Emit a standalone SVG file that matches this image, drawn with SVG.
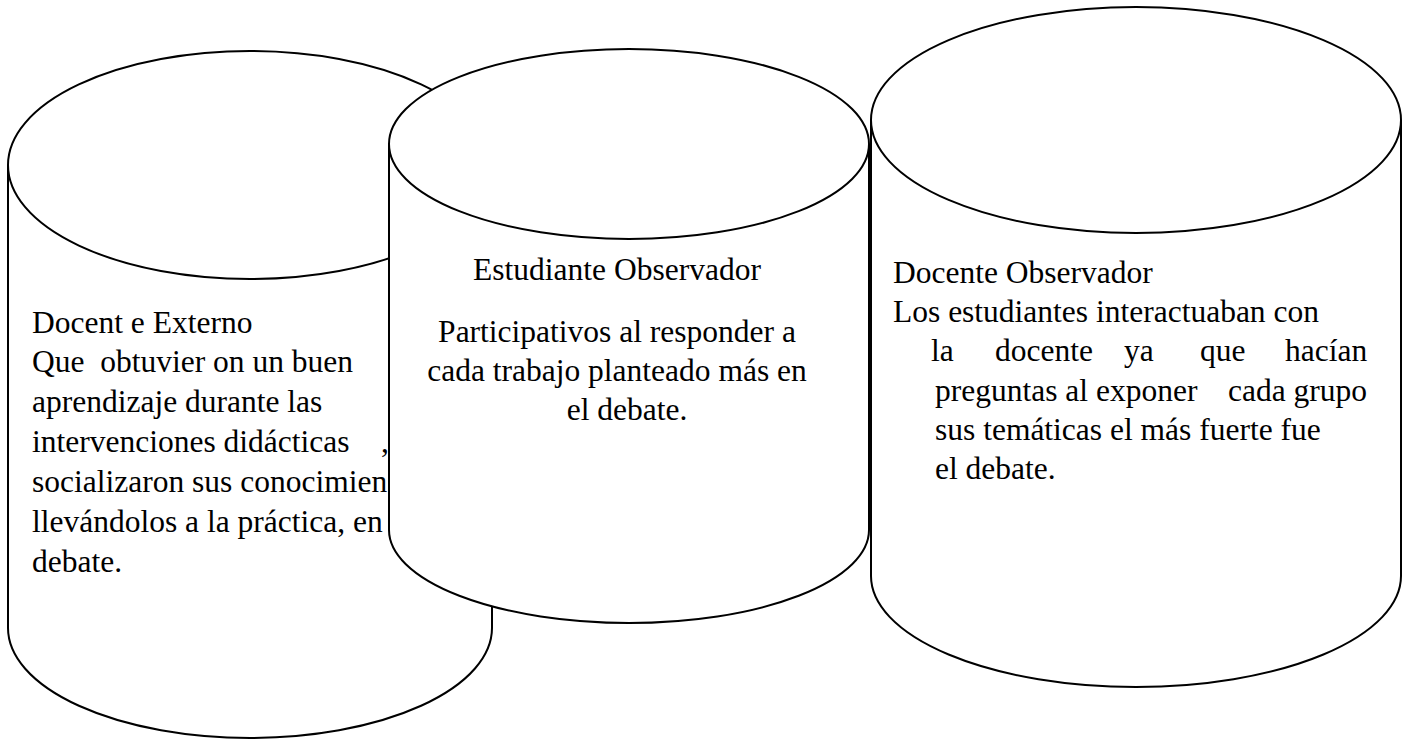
<svg xmlns="http://www.w3.org/2000/svg" width="1411" height="740" viewBox="0 0 1411 740">
<style>
.cyl{fill:#fff;stroke:#000;stroke-width:2}
.t{font-family:"Liberation Serif","Times New Roman",serif;font-size:31.5px;fill:#000}
.m{text-anchor:middle}
</style>
<rect width="1411" height="740" fill="#fff"/>
<g id="node-docente-externo">
<path class="cyl" d="M8,165 L8,628 A242,110 0 0 0 492,628 L492,165"/>
<ellipse class="cyl" cx="250" cy="165" rx="242" ry="114"/>
<text class="t" x="32" y="333">Docent e Externo</text>
<text class="t" x="32" y="372" xml:space="preserve">Que  obtuvier on un buen</text>
<text class="t" x="32" y="412">aprendizaje durante las</text>
<text class="t" x="32" y="452">intervenciones didácticas</text>
<text class="t" x="381" y="452">,</text>
<text class="t" x="32" y="492">socializaron sus conocimien</text>
<text class="t" x="32" y="532">llevándolos a la práctica, en</text>
<text class="t" x="32" y="572">debate.</text>
</g>
<g id="node-estudiante-observador">
<path class="cyl" d="M389,144 L389,530 A240,93 0 0 0 869,530 L869,144"/>
<ellipse class="cyl" cx="629" cy="144" rx="240" ry="95"/>
<text class="t m" x="617" y="280">Estudiante Observador</text>
<text class="t m" x="617" y="342">Participativos al responder a</text>
<text class="t m" x="617" y="381">cada trabajo planteado más en</text>
<text class="t m" x="627" y="420">el debate.</text>
</g>
<g id="node-docente-observador">
<path class="cyl" d="M871,120 L871,576 A265,111 0 0 0 1401,576 L1401,120"/>
<ellipse class="cyl" cx="1136" cy="120" rx="265" ry="113"/>
<text class="t" x="893" y="283">Docente Observador</text>
<text class="t" x="893" y="322">Los estudiantes interactuaban con</text>
<text class="t" y="361"><tspan x="931">la</tspan><tspan x="995">docente</tspan><tspan x="1124">ya</tspan><tspan x="1200">que</tspan><tspan x="1285">hacían</tspan></text>
<text class="t" y="401"><tspan x="935">preguntas al exponer</tspan><tspan x="1228">cada grupo</tspan></text>
<text class="t" x="935" y="440">sus temáticas el más fuerte fue</text>
<text class="t" x="935" y="479">el debate.</text>
</g>
<g id="connectors"/>
</svg>
